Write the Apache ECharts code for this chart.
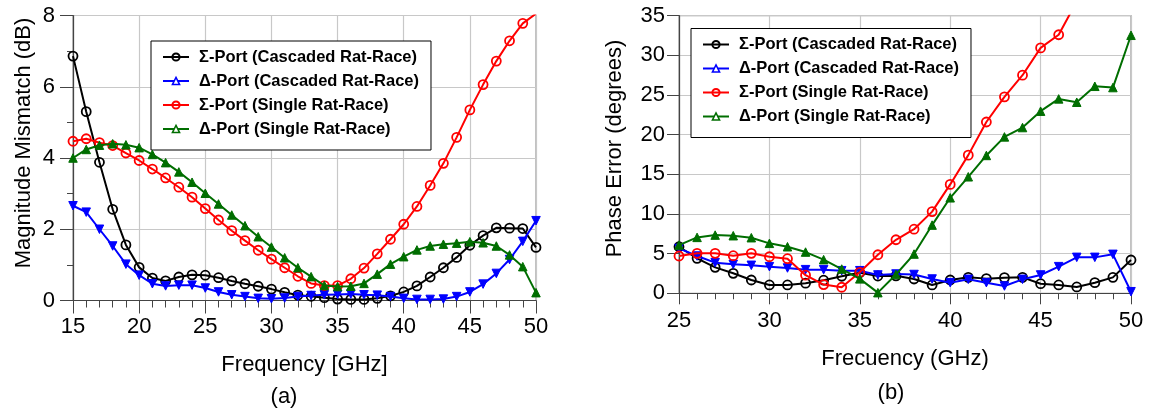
<!DOCTYPE html>
<html><head><meta charset="utf-8">
<script src="https://cdn.jsdelivr.net/npm/echarts@6/dist/echarts.min.js"></script>
<style>html,body{margin:0;padding:0;background:#fff}#c{width:1150px;height:413px}</style>
</head><body><div id="c"></div><script>
const seriesNames = ['Σ-Port (Cascaded Rat-Race)', 'Δ-Port (Cascaded Rat-Race)', 'Σ-Port (Single Rat-Race)', 'Δ-Port (Single Rat-Race)'];

// (a) Magnitude mismatch (dB)
const freqA = [15,16,17,18,19,20,21,22,23,24,25,26,27,28,29,30,31,32,33,34,35,36,37,38,39,40,41,42,43,44,45,46,47,48,49,50];
const sigmaCascA = [6.86,5.30,3.88,2.56,1.56,0.93,0.63,0.55,0.66,0.72,0.71,0.64,0.55,0.47,0.40,0.32,0.23,0.15,0.12,0.08,0.04,0.03,0.03,0.06,0.13,0.24,0.41,0.66,0.92,1.21,1.55,1.82,2.04,2.03,2.02,1.49];
const deltaCascA = [2.66,2.48,2.00,1.53,1.02,0.71,0.47,0.41,0.43,0.43,0.35,0.24,0.16,0.11,0.06,0.05,0.07,0.11,0.14,0.16,0.17,0.18,0.16,0.15,0.11,0.06,0.03,0.03,0.04,0.11,0.24,0.46,0.76,1.15,1.66,2.24];
const sigmaSingleA = [4.47,4.54,4.43,4.35,4.14,3.93,3.69,3.44,3.18,2.90,2.58,2.26,1.96,1.68,1.41,1.16,0.92,0.68,0.48,0.42,0.42,0.61,0.91,1.31,1.72,2.14,2.64,3.23,3.85,4.58,5.35,6.06,6.72,7.29,7.78,8.05];
const deltaSingleA = [4.00,4.24,4.36,4.40,4.37,4.29,4.10,3.87,3.61,3.32,3.01,2.71,2.40,2.10,1.79,1.50,1.20,0.92,0.67,0.42,0.39,0.40,0.48,0.74,1.02,1.23,1.42,1.53,1.58,1.61,1.65,1.62,1.53,1.28,0.95,0.22];

// (b) Phase error (degrees)
const freqB = [25,26,27,28,29,30,31,32,33,34,35,36,37,38,39,40,41,42,43,44,45,46,47,48,49,50];
const sigmaCascB = [5.87,4.41,3.27,2.52,1.68,1.05,1.05,1.28,1.65,2.15,2.60,2.18,2.20,1.80,1.05,1.68,2.01,1.85,1.97,2.01,1.21,1.05,0.80,1.34,2.01,4.20];
const deltaCascB = [5.66,4.70,3.86,3.65,3.53,3.36,3.19,2.98,2.98,2.85,2.85,2.31,2.43,2.37,1.80,1.34,1.76,1.34,0.92,1.76,2.31,3.36,4.53,4.53,4.91,0.20];
const sigmaSingleB = [4.70,5.04,5.04,4.74,5.04,4.61,4.36,2.29,1.10,0.76,2.65,4.86,6.75,8.08,10.30,13.73,17.42,21.60,24.77,27.50,30.94,32.60,36.80];
const deltaSingleB = [6.08,7.05,7.34,7.26,7.01,6.30,5.87,5.20,4.24,3.06,1.82,0.08,2.37,4.95,8.60,12.04,14.69,17.38,19.72,20.90,22.96,24.51,24.09,26.10,25.94,32.53];

const colors = ['#000000', '#0000ff', '#ff0000', '#006e00'];
const FONT = '"Liberation Sans", Arial, sans-serif';

function mk(idx, xs, ys, ai) {
  const circle = idx === 0 || idx === 2;
  const c = colors[idx];
  return {
    type: 'line', name: seriesNames[idx], xAxisIndex: ai, yAxisIndex: ai,
    data: ys.map((v, i) => [xs[i], v]),
    symbol: circle ? 'circle' : 'triangle',
    symbolRotate: idx === 1 ? 180 : 0,
    symbolSize: circle ? 9 : 8.5,
    showAllSymbol: true,
    clip: true,
    lineStyle: { color: c, width: 2 },
    itemStyle: circle ? { color: 'rgba(255,255,255,0)', borderColor: c, borderWidth: 1.8 } : { color: c, borderColor: c, borderWidth: 1 },
    emphasis: { disabled: true },
    z: 3 + idx
  };
}

function legendItems() {
  return seriesNames.map((n, i) => {
    const o = { name: n };
    if (i === 1 || i === 3) { o.itemStyle = { color: '#ffffff', borderColor: colors[i], borderWidth: 1.5 }; }
    if (i === 1) o.symbolRotate = 0;
    return o;
  });
}

function legend(left, top) {
  return {
    orient: 'vertical', left: left, top: top,
    data: legendItems(),
    backgroundColor: '#ffffff', borderColor: '#000000', borderWidth: 1,
    padding: [7, 12, 12, 11],
    itemWidth: 26, itemHeight: 9, itemGap: 6,
    selectedMode: false,
    textStyle: { fontSize: 16.5, fontWeight: 'bold', fontFamily: FONT, color: '#000', lineHeight: 18, padding: [0, 0, 0, 5] }
  };
}

const axisText = { fontSize: 22, color: '#000', fontFamily: FONT };
const axisLineStyle = { show: true, lineStyle: { color: '#444', width: 1.2 } };
const split = { show: true, lineStyle: { color: '#c8c8c8', width: 1.2 } };

const option = {
  animation: false,
  backgroundColor: '#ffffff',
  grid: [
    { left: 73, top: 15.5, width: 463, height: 285, show: true, borderColor: '#999', borderWidth: 1.2, backgroundColor: 'transparent' },
    { left: 679, top: 15.7, width: 452, height: 277.6, show: true, borderColor: '#999', borderWidth: 1.2, backgroundColor: 'transparent' }
  ],
  xAxis: [
    { type: 'value', gridIndex: 0, min: 15, max: 50, interval: 5,
      name: 'Frequency [GHz]', nameLocation: 'middle', nameGap: 53, nameTextStyle: axisText,
      axisLine: axisLineStyle, axisTick: { show: true, length: 13, lineStyle: { color: '#444' } },
      minorTick: { show: true, splitNumber: 5, length: 7, lineStyle: { color: '#444' } },
      axisLabel: Object.assign({ margin: 15 }, axisText), splitLine: split },
    { type: 'value', gridIndex: 1, min: 25, max: 50, interval: 5,
      name: 'Frecuency (GHz)', nameLocation: 'middle', nameGap: 55, nameTextStyle: axisText,
      axisLine: axisLineStyle, axisTick: { show: true, length: 11, lineStyle: { color: '#444' } },
      minorTick: { show: true, splitNumber: 5, length: 6, lineStyle: { color: '#444' } },
      axisLabel: Object.assign({ margin: 16.5 }, axisText), splitLine: split }
  ],
  yAxis: [
    { type: 'value', gridIndex: 0, min: 0, max: 8, interval: 2,
      name: 'Magnitude Mismatch (dB)', nameLocation: 'middle', nameGap: 38, nameRotate: 90,
      nameTextStyle: Object.assign({ padding: [0, 0, 0, 30] }, axisText),
      axisLine: axisLineStyle, axisTick: { show: true, length: 13, lineStyle: { color: '#444' } },
      minorTick: { show: true, splitNumber: 2, length: 6, lineStyle: { color: '#444' } },
      axisLabel: Object.assign({ margin: 18 }, axisText), splitLine: split },
    { type: 'value', gridIndex: 1, min: 0, max: 35, interval: 5,
      name: 'Phase Error (degrees)', nameLocation: 'middle', nameGap: 53, nameRotate: 90,
      nameTextStyle: Object.assign({ padding: [0, 0, 0, 12] }, axisText),
      axisLine: axisLineStyle, axisTick: { show: true, length: 12, lineStyle: { color: '#444' } },
      axisLabel: Object.assign({ margin: 14 }, axisText), splitLine: split }
  ],
  legend: [legend(151, 41), legend(691, 28.5)],
  graphic: [
    { type: 'text', x: 284, y: 397, style: { text: '(a)', font: '22px ' + FONT, fill: '#000', textAlign: 'center', textVerticalAlign: 'middle' } },
    { type: 'text', x: 891, y: 393, style: { text: '(b)', font: '22px ' + FONT, fill: '#000', textAlign: 'center', textVerticalAlign: 'middle' } }
  ],
  series: [
    mk(0, freqA, sigmaCascA, 0), mk(1, freqA, deltaCascA, 0), mk(2, freqA, sigmaSingleA, 0), mk(3, freqA, deltaSingleA, 0),
    mk(0, freqB, sigmaCascB, 1), mk(1, freqB, deltaCascB, 1), mk(2, freqB, sigmaSingleB, 1), mk(3, freqB, deltaSingleB, 1)
  ]
};
const chart = echarts.init(document.getElementById('c'), null, { renderer: 'canvas' });
chart.setOption(option);
</script></body></html>
